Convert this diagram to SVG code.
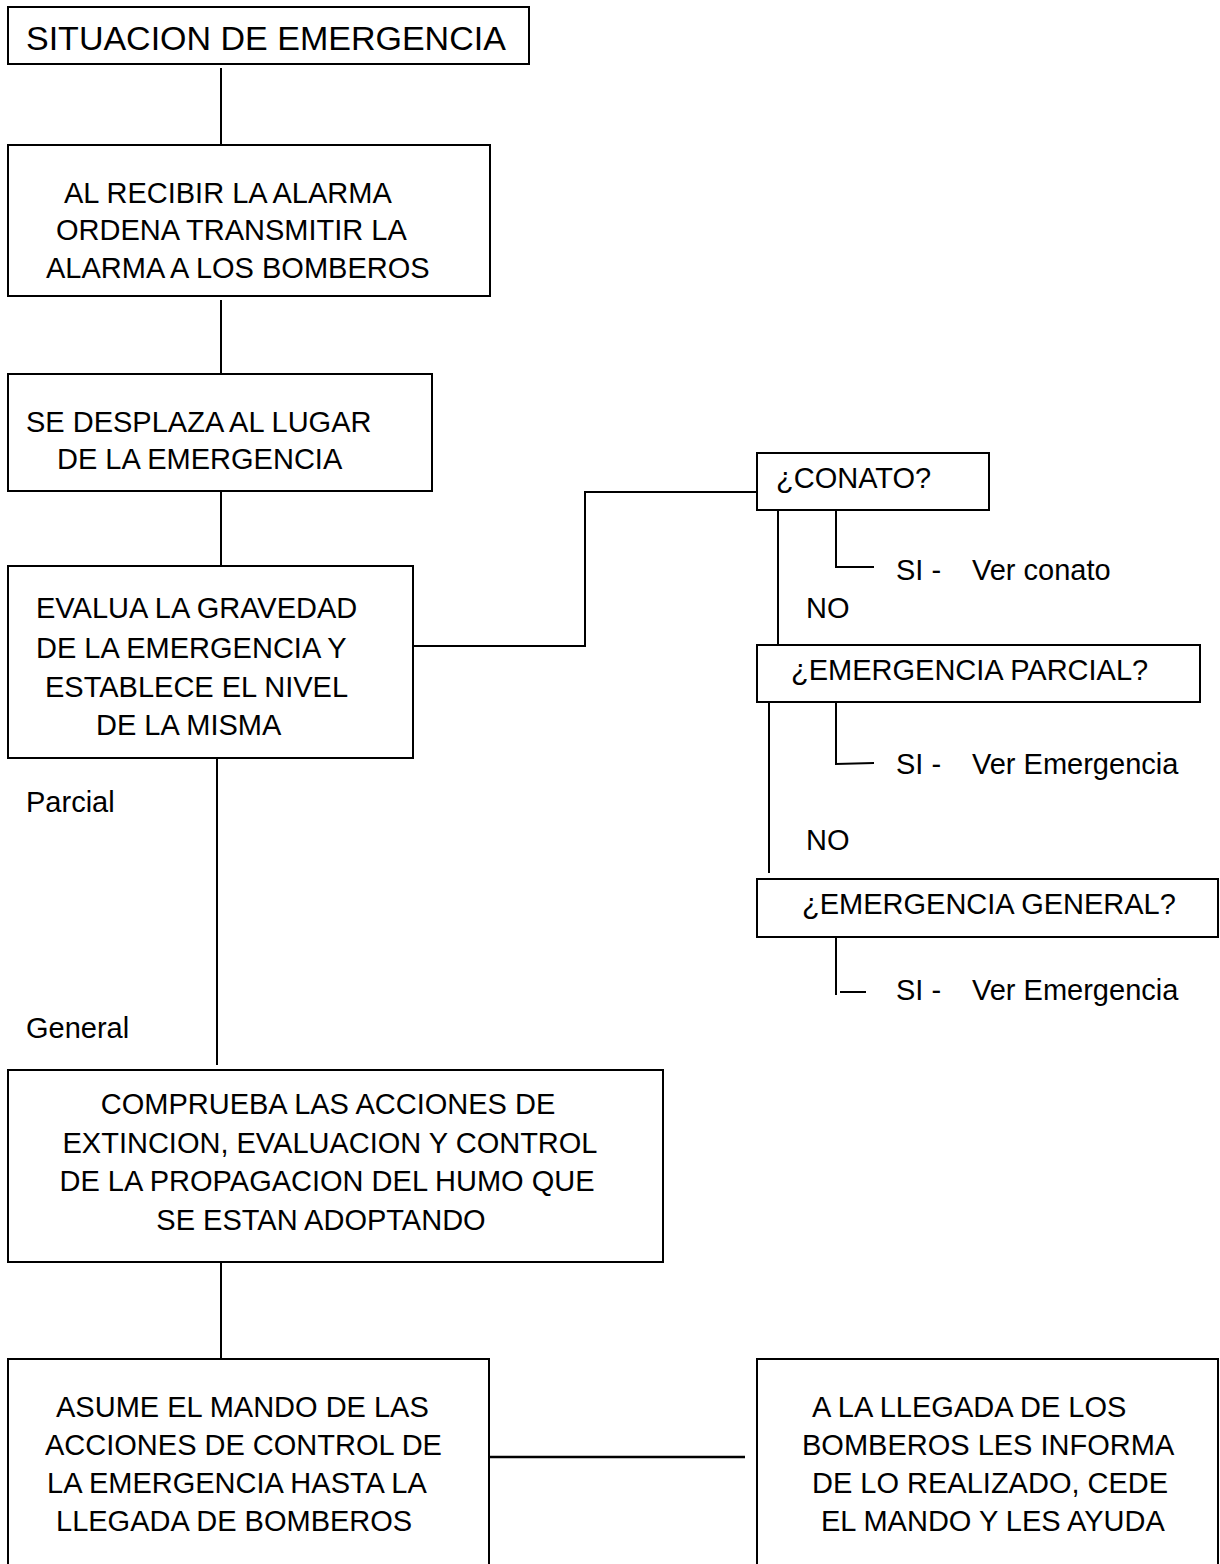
<svg xmlns="http://www.w3.org/2000/svg" width="1220" height="1564" viewBox="0 0 1220 1564">
<style>
.box{fill:#fff;stroke:#000;stroke-width:2}
.ln{fill:none;stroke:#000;stroke-width:2}
text{font-family:"Liberation Sans",Arial,sans-serif;font-size:29px;fill:#000}
.t{font-size:34px}
.m{text-anchor:middle}
</style>
<rect width="1220" height="1564" fill="#fff"/>
<g id="connectors">
<path class="ln" d="M221 68V145"/>
<path class="ln" d="M221 300V377"/>
<path class="ln" d="M221 491V568"/>
<path class="ln" d="M413 646H585V492H757"/>
<path class="ln" d="M217 758V1065"/>
<path class="ln" d="M221 1263V1362"/>
<path class="ln" d="M482 1457H745" style="stroke-width:2.5"/>
<path class="ln" d="M778 510V647"/>
<path class="ln" d="M836 510V567H874"/>
<path class="ln" d="M769 702V873"/>
<path class="ln" d="M836 702V764L874 763"/>
<path class="ln" d="M836 937V995"/>
<path class="ln" d="M840 992H866"/>
</g>
<g id="n1">
<rect class="box" x="8" y="7" width="521" height="57"/>
<text class="t" x="26" y="50">SITUACION DE EMERGENCIA</text>
</g>
<g id="n2">
<rect class="box" x="8" y="145" width="482" height="151"/>
<text x="64" y="203">AL RECIBIR LA ALARMA</text>
<text x="56" y="240">ORDENA TRANSMITIR LA</text>
<text x="46" y="278">ALARMA A LOS BOMBEROS</text>
</g>
<g id="n3">
<rect class="box" x="8" y="374" width="424" height="117"/>
<text x="26" y="432">SE DESPLAZA AL LUGAR</text>
<text x="57" y="469">DE LA EMERGENCIA</text>
</g>
<g id="n4">
<rect class="box" x="8" y="566" width="405" height="192"/>
<text x="36" y="618">EVALUA LA GRAVEDAD</text>
<text x="36" y="658">DE LA EMERGENCIA Y</text>
<text x="45" y="697">ESTABLECE EL NIVEL</text>
<text x="96" y="735">DE LA MISMA</text>
</g>
<g id="labels">
<text x="26" y="812">Parcial</text>
<text x="26" y="1038">General</text>
<text x="806" y="618">NO</text>
<text x="806" y="850">NO</text>
</g>
<g id="n5">
<rect class="box" x="8" y="1070" width="655" height="192"/>
<text class="m" x="328" y="1114">COMPRUEBA LAS ACCIONES DE</text>
<text class="m" x="330" y="1153">EXTINCION, EVALUACION Y CONTROL</text>
<text class="m" x="327" y="1191">DE LA PROPAGACION DEL HUMO QUE</text>
<text class="m" x="321" y="1230">SE ESTAN ADOPTANDO</text>
</g>
<g id="n6">
<rect class="box" x="8" y="1359" width="481" height="230"/>
<text x="56" y="1417">ASUME EL MANDO DE LAS</text>
<text x="45" y="1455">ACCIONES DE CONTROL DE</text>
<text x="47" y="1493">LA EMERGENCIA HASTA LA</text>
<text x="56" y="1531">LLEGADA DE BOMBEROS</text>
</g>
<g id="n7">
<rect class="box" x="757" y="1359" width="461" height="230"/>
<text x="812" y="1417">A LA LLEGADA DE LOS</text>
<text x="802" y="1455">BOMBEROS LES INFORMA</text>
<text x="812" y="1493">DE LO REALIZADO, CEDE</text>
<text x="821" y="1531">EL MANDO Y LES AYUDA</text>
</g>
<g id="q1">
<rect class="box" x="757" y="453" width="232" height="57"/>
<text x="776" y="488">¿CONATO?</text>
</g>
<g id="a1">
<text x="896" y="580">SI -</text>
<text x="972" y="580">Ver conato</text>
</g>
<g id="q2">
<rect class="box" x="757" y="645" width="443" height="57"/>
<text x="791" y="680">¿EMERGENCIA PARCIAL?</text>
</g>
<g id="a2">
<text x="896" y="774">SI -</text>
<text x="972" y="774">Ver Emergencia</text>
</g>
<g id="q3">
<rect class="box" x="757" y="879" width="461" height="58"/>
<text x="802" y="914">¿EMERGENCIA GENERAL?</text>
</g>
<g id="a3">
<text x="896" y="1000">SI -</text>
<text x="972" y="1000">Ver Emergencia</text>
</g>
</svg>
